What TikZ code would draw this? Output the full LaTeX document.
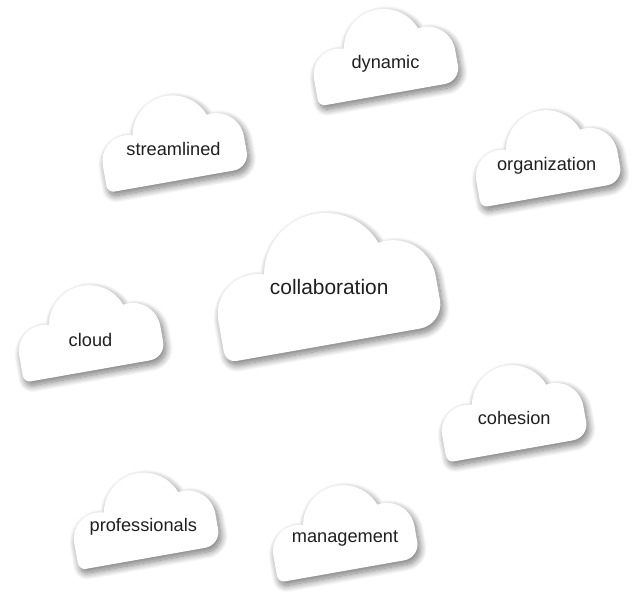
\documentclass[tikz,border=0pt]{standalone}
\usepackage{fontspec}
\setmainfont{Liberation Sans}
\usetikzlibrary{shadows.blur}
\tikzset{
  cloudfill/.style={fill=white, blur shadow={shadow xshift=2.5pt, shadow yshift=-4pt, shadow blur radius=7pt, shadow blur steps=20, shadow opacity=55}},
  cloudpic/.pic={
    \path[cloudfill] (-65.05,-42) -- (56,-42) arc[start angle=-90,end angle=0,radius=16]
      -- (72,-10) arc[start angle=0,end angle=100,radius=28]
      arc[start angle=21,end angle=170,radius=40]
      arc[start angle=71,end angle=180,radius=26]
      -- (-72.05,-35) arc[start angle=180,end angle=270,radius=7] -- cycle;
  },
  smalllabel/.style={anchor=base, inner sep=0pt, font=\fontsize{18.2}{20}\selectfont, text=black!88},
  biglabel/.style={anchor=base, inner sep=0pt, font=\fontsize{20.9}{23}\selectfont, text=black!88}
}
\begin{document}
\begin{tikzpicture}[x=1pt,y=1pt]
\useasboundingbox (0,0) rectangle (639,607);
% clouds
\pic[rotate=10, scale=1.54] (cCollab) at (323.8,327.1) {cloudpic};
\pic[rotate=10] (cDyn) at (382.5,554.6) {cloudpic};
\pic[rotate=10] (cStream) at (171.3,468.1) {cloudpic};
\pic[rotate=10] (cOrg) at (544.7,453.3) {cloudpic};
\pic[rotate=10] (cCloud) at (87.7,278.3) {cloudpic};
\pic[rotate=10] (cCoh) at (510.7,198.3) {cloudpic};
\pic[rotate=10] (cProf) at (142.7,90.8) {cloudpic};
\pic[rotate=10] (cMan) at (341.8,78.3) {cloudpic};
% labels
\node[biglabel] (collab) at (329.2,312.7) {collaboration};
\node[smalllabel] (dyn) at (385.5,538.7) {dynamic};
\node[smalllabel] (stream) at (173.5,451) {streamlined};
\node[smalllabel] (org) at (546.7,436.3) {organization};
\node[smalllabel] (cloud) at (90.5,260.3) {cloud};
\node[smalllabel] (coh) at (514.2,182) {cohesion};
\node[smalllabel] (prof) at (143.3,75.3) {professionals};
\node[smalllabel] (man) at (345,64.3) {management};
\end{tikzpicture}
\end{document}
